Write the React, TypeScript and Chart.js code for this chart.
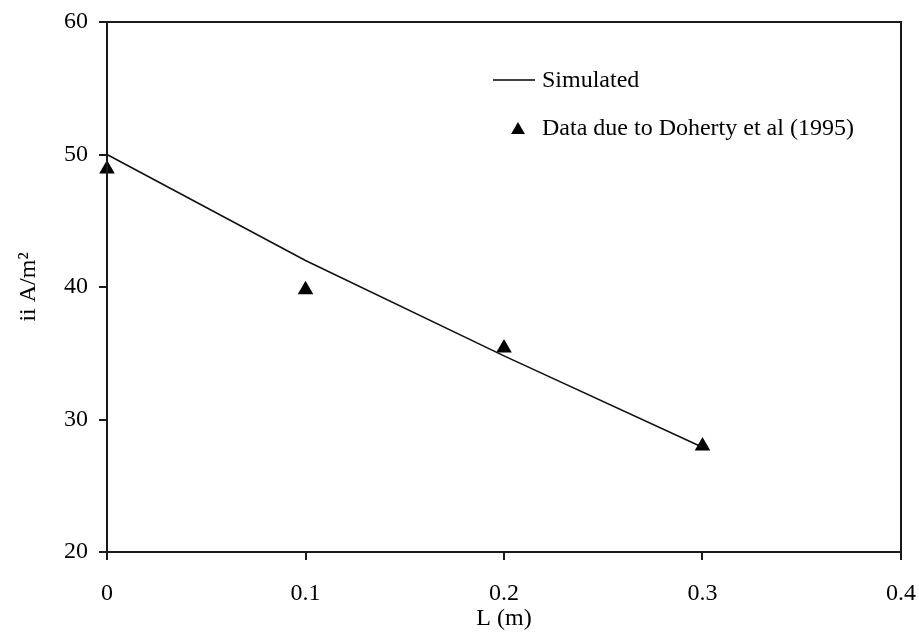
import React, { useEffect, useRef } from "react";
import { Chart, registerables } from "chart.js";

Chart.register(...registerables);

const simX = [0, 0.1, 0.2, 0.3];
const simY = [50, 42.0, 34.8, 27.9];
const obsX = [0, 0.1, 0.2, 0.3];
const obsY = [48.9, 39.8, 35.4, 28.0];
const xTickLabels = ["0", "0.1", "0.2", "0.3", "0.4"];
const yTickLabels = ["20", "30", "40", "50", "60"];
const simLabel = "Simulated";
const obsLabel = "Data due to Doherty et al (1995)";
const xTitle = "L (m)";
const yTitle = "ii A/m\u00B2";

const FONT_FAMILY = '"Liberation Serif", "Times New Roman", serif';
const INK = "#1a1a1a";

const frameAndLegend = {
  id: "frameAndLegend",
  afterDraw(chart: any) {
    const { ctx, chartArea } = chart;
    const { left, top, right, bottom } = chartArea;
    ctx.save();
    ctx.strokeStyle = INK;
    ctx.lineWidth = 2;
    ctx.strokeRect(left, top, right - left, bottom - top);

    // legend
    ctx.fillStyle = "#000";
    ctx.font = "24px " + FONT_FAMILY;
    ctx.textBaseline = "alphabetic";
    ctx.textAlign = "left";
    const lx = left + 386;
    const ly = top + 58;
    ctx.strokeStyle = "#000";
    ctx.lineWidth = 1.5;
    ctx.beginPath();
    ctx.moveTo(lx, ly);
    ctx.lineTo(lx + 42, ly);
    ctx.stroke();
    ctx.fillText(simLabel, lx + 49, ly + 7);

    const tx = lx + 25;
    const ty = ly + 50;
    const r = 8;
    ctx.beginPath();
    ctx.moveTo(tx, ty - r);
    ctx.lineTo(tx + r * 0.866, ty + r / 2);
    ctx.lineTo(tx - r * 0.866, ty + r / 2);
    ctx.closePath();
    ctx.fill();
    ctx.fillText(obsLabel, lx + 49, ly + 55);
    ctx.restore();
  },
};

export default function App() {
  const ref = useRef<HTMLCanvasElement | null>(null);

  useEffect(() => {
    document.body.style.margin = "0";
    const canvas = ref.current;
    if (!canvas) return;
    const font = { family: FONT_FAMILY, size: 24 };
    const chart = new Chart(canvas, {
      type: "scatter",
      data: {
        datasets: [
          {
            type: "line",
            label: simLabel,
            data: simX.map((x, i) => ({ x, y: simY[i] })),
            borderColor: "#111",
            borderWidth: 1.6,
            pointRadius: 0,
            fill: false,
            tension: 0,
            clip: false,
          },
          {
            type: "scatter",
            label: obsLabel,
            data: obsX.map((x, i) => ({ x, y: obsY[i] })),
            pointStyle: "triangle",
            pointRadius: 9,
            backgroundColor: "#000",
            borderColor: "#000",
            borderWidth: 0,
            clip: false,
          },
        ],
      } as any,
      options: {
        responsive: false,
        animation: false,
        layout: { padding: { top: 22, right: 18, left: 0, bottom: 0 } },
        plugins: {
          legend: { display: false },
          tooltip: { enabled: false },
        },
        scales: {
          x: {
            type: "linear",
            min: 0,
            max: 0.4,
            ticks: {
              stepSize: 0.1,
              color: "#000",
              font,
              padding: 19,
              maxRotation: 0,
              callback: (_v: any, i: number) => xTickLabels[i],
            },
            grid: {
              drawOnChartArea: false,
              drawTicks: true,
              tickLength: 8,
              color: INK,
              lineWidth: 2,
            },
            border: { display: true, color: INK, width: 2 },
            title: {
              display: true,
              text: xTitle,
              color: "#000",
              font,
              padding: { top: 0, bottom: 4 },
            },
            afterFit: (s: any) => {
              s.height = 85;
              s.paddingLeft = 0;
              s.paddingRight = 0;
            },
          },
          y: {
            type: "linear",
            min: 20,
            max: 60,
            ticks: {
              stepSize: 10,
              color: "#000",
              font,
              padding: 11,
              callback: (_v: any, i: number) => yTickLabels[i],
            },
            grid: {
              drawOnChartArea: false,
              drawTicks: true,
              tickLength: 8,
              color: INK,
              lineWidth: 2,
            },
            border: { display: true, color: INK, width: 2 },
            title: {
              display: true,
              text: yTitle,
              color: "#000",
              font,
              padding: { top: 14, bottom: 0 },
            },
            afterFit: (s: any) => {
              s.width = 107;
              s.paddingTop = 0;
              s.paddingBottom = 0;
            },
          },
        },
      } as any,
      plugins: [frameAndLegend],
    });
    return () => chart.destroy();
  }, []);

  return (
    <div style={{ width: 919, height: 637 }}>
      <canvas ref={ref} width={919} height={637} style={{ display: "block" }} />
    </div>
  );
}
